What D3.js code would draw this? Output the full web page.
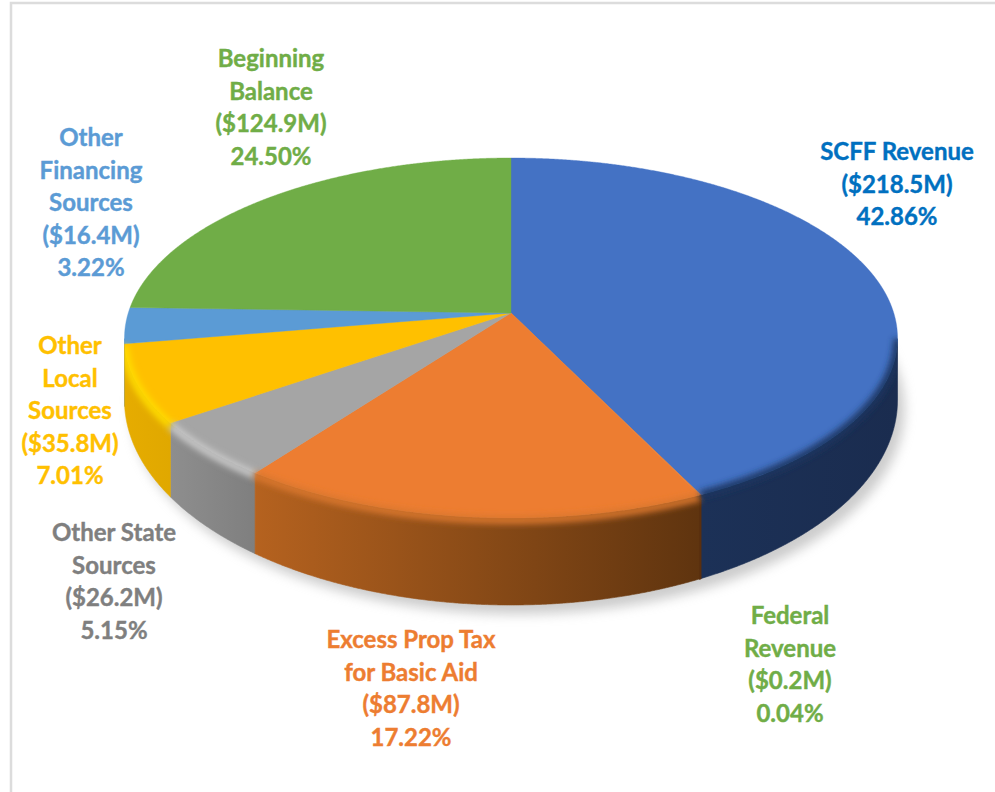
<!DOCTYPE html>
<html><head><meta charset="utf-8">
<script src="https://cdn.jsdelivr.net/npm/d3@7"></script>
<style>html,body{margin:0;padding:0;background:#fff;overflow:hidden}svg{display:block}</style>
</head><body><svg id="c" width="995" height="792"></svg>
<script>
// ---- data ----
const categories = ["SCFF Revenue","Federal Revenue","Excess Prop Tax for Basic Aid","Other State Sources","Other Local Sources","Other Financing Sources","Beginning Balance"];
const labelLines = [["SCFF Revenue"],["Federal","Revenue"],["Excess Prop Tax","for Basic Aid"],["Other State","Sources"],["Other","Local","Sources"],["Other","Financing","Sources"],["Beginning","Balance"]];
const amounts = [218.5,0.2,87.8,26.2,35.8,16.4,124.9];
const percents = [42.86,0.04,17.22,5.15,7.01,3.22,24.50];
// ---- styles ----
const topColors  = ["#4472C4","#ED7D31","#ED7D31","#A5A5A5","#FFC000","#5B9BD5","#70AD47"];
const wallLeft   = ["#1C3157","#5A2F0E","#B5621F","#8E8E8E","#E6AC00","#4A86BE","#5F9A3A"];
const wallRight  = ["#1A2C4F","#5A2F0E","#5F340F","#7F7F7F","#E0A800","#4A86BE","#5F9A3A"];
const rimColors  = ["#1E3560","#6B3A12","#D9772F","#C9C9C9","#FFDC00","#74B4EC","#70AD47"];
const textColors = ["#0070C0","#70AD47","#ED7D31","#7F7F7F","#FFC000","#5B9BD5","#70AD47"];
const labelCenters = [[897,152],[790,616],[411,640],[114,533],[70,346],[91,138],[271,59]];
const lineStep = 32.4;

// ---- geometry: a tilted disc seen in perspective ----
const cx=511, apexY=313, backY=158, frontY=518, halfW=386.5;
const p=((frontY-apexY)-(apexY-backY))/((frontY-apexY)+(apexY-backY));
const a=(frontY-apexY)*(1-p), b=halfW*Math.sqrt(1-p*p);
const baseCy=400, baseRy=205;
const project=t=>{const u=Math.sin(t),v=-Math.cos(t),w=1-p*v;return {x:cx+b*u/w,y:apexY+a*v/w,v};};
const baseY=x=>{const d=Math.min(1,Math.abs(x-cx)/halfW);return baseCy+baseRy*Math.sqrt(1-d*d);};

const arcs=d3.pie().sort(null).value(d=>d)(percents);
const samples=d=>{const n=Math.max(2,Math.ceil((d.endAngle-d.startAngle)/0.004));
  return d3.range(n+1).map(i=>project(d.startAngle+(d.endAngle-d.startAngle)*i/n));};
const line=d3.line().x(d=>d.x).y(d=>d.y);

const svg=d3.select("#c");
const defs=svg.append("defs");
const blur=(id,s)=>defs.append("filter").attr("id",id).attr("x","-20%").attr("y","-20%").attr("width","140%").attr("height","140%")
  .attr("filterUnits","objectBoundingBox").append("feGaussianBlur").attr("stdDeviation",s);
blur("sh",6);blur("rim",3);

// frame
svg.append("path").attr("d","M11,792V3H995").attr("fill","none").attr("stroke","#dcdcdc").attr("stroke-width",2.5);

const fullCircle=d3.range(0,361).map(i=>project(i*Math.PI/180));
const g=svg.append("g");
// drop shadow
const basePts=d3.range(0,361).map(i=>{const t=i*Math.PI/180;return {x:cx+halfW*Math.sin(t),y:baseCy-baseRy*Math.cos(t)};});
g.append("path").attr("d",line(basePts)+"Z").attr("transform","translate(7,9)").attr("fill","#9a9a9a").attr("opacity",.5).attr("filter","url(#sh)");

// walls
const wallPts=arcs.map(d=>samples(d).filter(q=>q.v>=p));
const wallPath=pts=>{const bottom=pts.map(q=>({x:q.x,y:baseY(q.x)})).reverse();return line(pts.concat(bottom))+"Z";};
const order=[5,3,4,2,0,1].filter(i=>wallPts[i].length>1);
order.forEach(i=>{
  const pts=wallPts[i];
  const ext=d3.extent(pts,q=>q.x);
  const gr=defs.append("linearGradient").attr("id","w"+i).attr("gradientUnits","userSpaceOnUse")
    .attr("x1",ext[0]).attr("x2",ext[1]+.01).attr("y1",0).attr("y2",0);
  gr.append("stop").attr("offset",0).attr("stop-color",wallLeft[i]);
  gr.append("stop").attr("offset",1).attr("stop-color",wallRight[i]);
  g.append("path").attr("d",wallPath(pts)).attr("fill",wallLeft[i]===wallRight[i]?wallLeft[i]:`url(#w${i})`)
   .attr("stroke",wallLeft[i]===wallRight[i]?wallLeft[i]:`url(#w${i})`).attr("stroke-width",i===1?1.4:.6);
});
// top face
arcs.forEach((d,i)=>{
  g.append("path").attr("d",line([{x:cx,y:apexY},...samples(d)])+"Z").attr("fill",topColors[i])
   .attr("stroke",topColors[i]).attr("stroke-width",.4);
});
// bevel along the front rim, kept inside the solid
const clip=defs.append("clipPath").attr("id","solid");
clip.append("path").attr("d",line(fullCircle)+"Z");
order.forEach(i=>clip.append("path").attr("d",wallPath(wallPts[i])));
const rimG=g.append("g").attr("clip-path","url(#solid)");
[5,3,4,2,0].forEach(i=>{
  rimG.append("path").attr("d",line(wallPts[i].map(q=>({x:q.x,y:q.y+(i===0?0:2)})))).attr("fill","none")
    .attr("stroke",rimColors[i]).attr("stroke-width",8).attr("filter","url(#rim)");
});

// labels
const lab=svg.append("g").attr("font-family","Lato, 'Open Sans', sans-serif").attr("font-weight",700).attr("font-size",24).attr("text-anchor","middle");
categories.forEach((c,i)=>{
  const lines=[...labelLines[i],`($${amounts[i].toFixed(1)}M)`,`${percents[i].toFixed(2)}%`];
  lines.forEach((s,k)=>lab.append("text").attr("x",labelCenters[i][0]).attr("y",labelCenters[i][1]+k*lineStep)
    .attr("dy","0.35em").attr("fill",textColors[i]).attr("stroke",textColors[i]).attr("stroke-width",.4).text(s));
});
</script></body></html>
